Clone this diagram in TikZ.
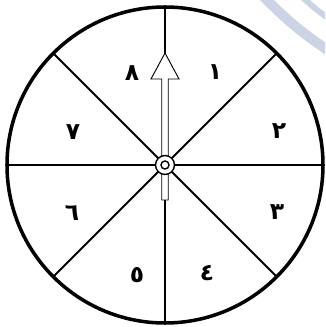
\documentclass[tikz,border=0pt]{standalone}
\usepackage{fontspec}
\newfontfamily\arabicfont[Script=Arabic]{DejaVu Sans}
\usetikzlibrary{calc}
\definecolor{cmark}{HTML}{CBD3E4}
\tikzset{
  rim/.style={draw=black, line width=3pt},
  spoke/.style={draw=black, line width=1.8pt},
  pointer/.style={draw=black, fill=white, line width=0.8pt},
  hub/.style={draw=black, fill=white, line width=1.2pt},
  digit/.style={font=\arabicfont\bfseries\fontsize{20}{20}\selectfont, inner sep=0pt},
}

\begin{document}
\begin{tikzpicture}[x=0.3mm, y=0.3mm]
  \useasboundingbox (0,0) rectangle (325,327);
  % faint watermark in the corner
  \begin{scope}
    \clip (0,0) rectangle (325,327);
    \draw[cmark, line width=8.5pt] (262,332) to[bend right=6] (332,274);
    \draw[cmark, line width=5pt] (300,332) to[bend right=4] (332,306);
  \end{scope}
  \coordinate (c) at (165,162);
  % eight sectors
  \foreach \a in {0,45,...,315} \draw[spoke] (c) -- ($(c)+(\a:158)$);
  \draw[rim] (c) circle[radius=158];
  % pointer
  \draw[pointer] (161.75,127) -- (161.75,248) -- (151,248) -- (165,274)
    -- (179,248) -- (168.25,248) -- (168.25,127) -- cycle;
  \draw[hub] (c) circle[radius=9.5];
  \draw[hub] (c) circle[radius=4];
  % numbers
  \foreach \n/\x/\y/\t in {1/215/255/١, 2/279/196/٢, 3/277/115/٣, 4/207/54/٤,
                           5/137/52/٥, 6/72/114/٦, 7/73/195/٧, 8/132/254/٨}
    \node[digit] (d\n) at (\x,\y) {\t};
\end{tikzpicture}
\end{document}
